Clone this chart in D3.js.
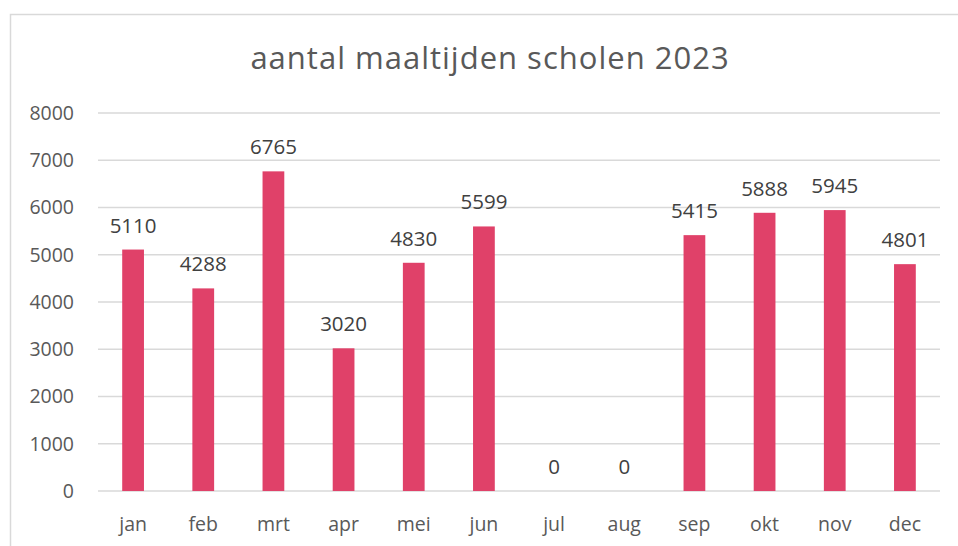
<!DOCTYPE html>
<html lang="nl">
<head>
  <meta charset="UTF-8">
  <title>aantal maaltijden scholen 2023</title>
  <script src="https://d3js.org/d3.v7.min.js"></script>
  <style>
    body { margin: 0; background: #fff; font-family: "Open Sans", sans-serif; }
    .grid line { stroke: #d9d9d9; stroke-width: 1.5px; }
    .tick-label { fill: #595959; font-size: 19.5px; }
    .bar-label { fill: #404040; font-size: 20.5px; }
  </style>
</head>
<body>
  <svg id="chart" width="958" height="546"></svg>

  <script>
    // months and meal counts
    const months = ["jan", "feb", "mrt", "apr", "mei", "jun", "jul", "aug", "sep", "okt", "nov", "dec"];
    const meals = [5110, 4288, 6765, 3020, 4830, 5599, 0, 0, 5415, 5888, 5945, 4801];
    const yTicks = [0, 1000, 2000, 3000, 4000, 5000, 6000, 7000, 8000];

    const svg = d3.select("#chart");
    const margin = {top: 113, right: 18, bottom: 55, left: 98};
    const width = 958, height = 546;

    // outer chart frame
    svg.append("rect")
      .attr("x", 10.5).attr("y", 14.5)
      .attr("width", 960).attr("height", 560)
      .attr("fill", "#fff")
      .attr("stroke", "#d9d9d9")
      .attr("stroke-width", 1.5);

    svg.append("text")
      .attr("x", 490).attr("y", 69)
      .attr("text-anchor", "middle")
      .style("font-size", "31px")
      .style("letter-spacing", "1px")
      .style("fill", "#595959")
      .text("aantal maaltijden scholen 2023");

    const x = d3.scaleBand()
      .domain(months)
      .range([margin.left, width - margin.right])
      .paddingInner(0.69)
      .paddingOuter(0.345);

    const y = d3.scaleLinear()
      .domain([0, 8000])
      .range([height - margin.bottom, margin.top]);

    // gridlines
    svg.append("g").attr("class", "grid")
      .selectAll("line")
      .data(yTicks)
      .enter().append("line")
      .attr("x1", margin.left).attr("x2", width - margin.right)
      .attr("y1", d => y(d)).attr("y2", d => y(d));

    // y tick labels
    svg.append("g")
      .selectAll("text")
      .data(yTicks)
      .enter().append("text")
      .attr("class", "tick-label")
      .attr("x", 74)
      .attr("y", d => y(d))
      .attr("dy", "0.35em")
      .attr("text-anchor", "end")
      .text(d => d);

    // bars
    svg.append("g")
      .selectAll("rect")
      .data(meals)
      .enter().append("rect")
      .attr("x", (d, i) => x(months[i]))
      .attr("y", d => y(d))
      .attr("width", x.bandwidth())
      .attr("height", d => y(0) - y(d))
      .attr("fill", "#e04169");

    // value labels
    svg.append("g")
      .selectAll("text")
      .data(meals)
      .enter().append("text")
      .attr("class", "bar-label")
      .attr("x", (d, i) => x(months[i]) + x.bandwidth() / 2)
      .attr("y", d => y(d) - 17)
      .attr("text-anchor", "middle")
      .text(d => d);

    // month labels
    svg.append("g")
      .selectAll("text")
      .data(months)
      .enter().append("text")
      .attr("class", "tick-label")
      .attr("x", d => x(d) + x.bandwidth() / 2)
      .attr("y", 531)
      .attr("text-anchor", "middle")
      .text(d => d);
  </script>
</body>
</html>
